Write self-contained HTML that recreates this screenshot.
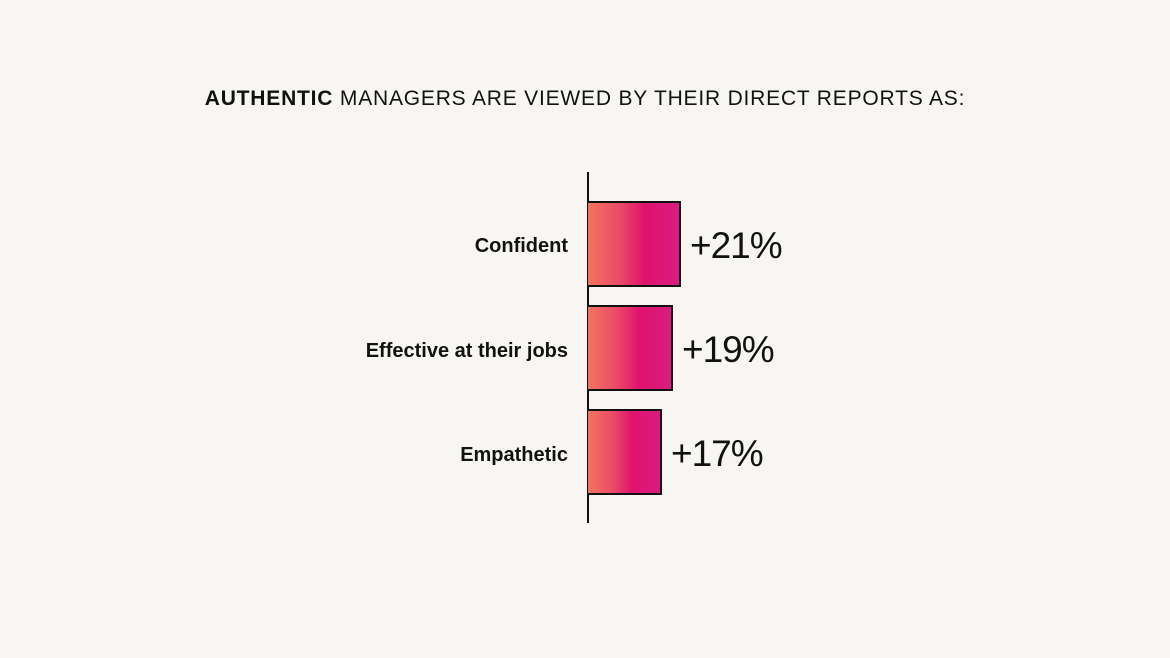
<!DOCTYPE html>
<html><head><style>
body{margin:0;width:1170px;height:658px;background:#f7f6f2;font-family:"Liberation Sans",sans-serif;position:relative;overflow:hidden;color:#111}
.t{position:absolute;top:87px;left:0;width:1170px;text-align:center;font-size:21px;letter-spacing:0.8px}
.ax{position:absolute;left:587px;top:172px;width:2px;height:351px;background:#111}
.bar{position:absolute;left:588px;height:82px;border:2px solid #111;border-left:none;box-sizing:content-box;background:linear-gradient(90deg,#f2745f 0%,#ea4a68 35%,#e0126c 62%,#d81c80 100%)}
.l{position:absolute;right:602px;font-size:20px;font-weight:bold;text-align:right;white-space:nowrap}
.v{position:absolute;font-size:37px;font-weight:normal;letter-spacing:-1px}
</style></head><body>
<div class="t"><b>AUTHENTIC</b> MANAGERS ARE VIEWED BY THEIR DIRECT REPORTS AS:</div>
<div class="ax"></div>
<div class="bar" style="top:201px;width:91px"></div>
<div class="bar" style="top:305px;width:83px"></div>
<div class="bar" style="top:409px;width:72px"></div>
<div class="l" style="top:235px">Confident</div>
<div class="l" style="top:340px">Effective at their jobs</div>
<div class="l" style="top:444px">Empathetic</div>
<div class="v" style="left:690px;top:225px">+21%</div>
<div class="v" style="left:682px;top:329px">+19%</div>
<div class="v" style="left:671px;top:433px">+17%</div>
</body></html>
